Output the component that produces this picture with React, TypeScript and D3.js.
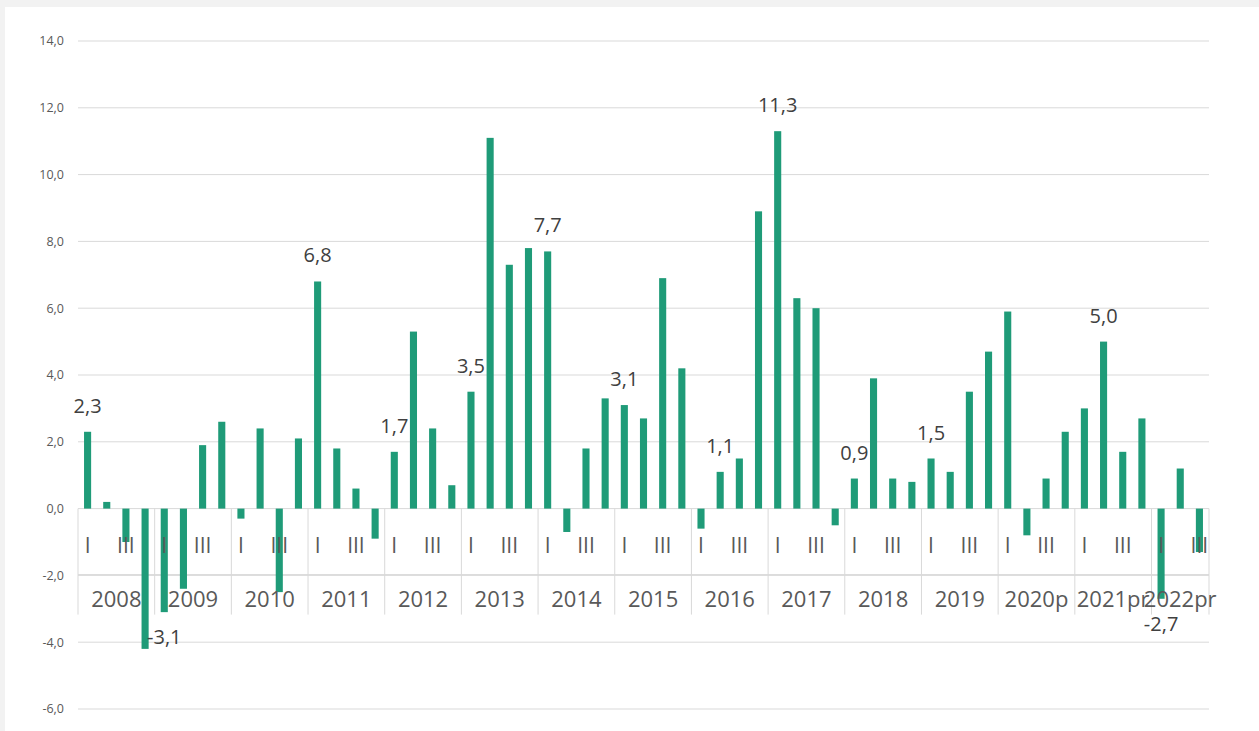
import React from "react";
import * as d3 from "d3";

const years = ["2008", "2009", "2010", "2011", "2012", "2013", "2014", "2015", "2016", "2017", "2018", "2019", "2020p", "2021pr", "2022pr"];
const quarterLabels = ["I", "II", "III", "IV"];

const v2008 = [2.3, 0.2, -1.0, -4.2];
const v2009 = [-3.1, -2.4, 1.9, 2.6];
const v2010 = [-0.3, 2.4, -2.5, 2.1];
const v2011 = [6.8, 1.8, 0.6, -0.9];
const v2012 = [1.7, 5.3, 2.4, 0.7];
const v2013 = [3.5, 11.1, 7.3, 7.8];
const v2014 = [7.7, -0.7, 1.8, 3.3];
const v2015 = [3.1, 2.7, 6.9, 4.2];
const v2016 = [-0.6, 1.1, 1.5, 8.9];
const v2017 = [11.3, 6.3, 6.0, -0.5];
const v2018 = [0.9, 3.9, 0.9, 0.8];
const v2019 = [1.5, 1.1, 3.5, 4.7];
const v2020 = [5.9, -0.8, 0.9, 2.3];
const v2021 = [3.0, 5.0, 1.7, 2.7];
const v2022 = [-2.7, 1.2, -1.3];

const seriesByYear = [v2008, v2009, v2010, v2011, v2012, v2013, v2014, v2015, v2016, v2017, v2018, v2019, v2020, v2021, v2022];

// data labels: [year, quarter index]
const labeledPoints: [string, number][] = [
  ["2008", 0], ["2009", 0], ["2011", 0], ["2012", 0], ["2013", 0], ["2014", 0],
  ["2015", 0], ["2016", 1], ["2017", 0], ["2018", 0], ["2019", 0], ["2021pr", 1], ["2022pr", 0],
];

const yTicks = [-6, -4, -2, 0, 2, 4, 6, 8, 10, 12, 14];

const W = 1259;
const H = 731;
const X0 = 78;
const X1 = 1209;
const FONT = "'Open Sans', 'DejaVu Sans', sans-serif";
const BAR = "#1f9b78";

type Pt = { id: string; year: string; q: number; value: number };

export default function App() {
  const points: Pt[] = [];
  years.forEach((y, yi) => {
    seriesByYear[yi].forEach((v, qi) => points.push({ id: `${y}-${qi}`, year: y, q: qi, value: v }));
  });

  const x = d3.scaleBand<string>().domain(points.map((p) => p.id)).range([X0, X1]).padding(0);
  const y = d3.scaleLinear().domain([-6, 14]).range([709, 41]);
  const bw = x.bandwidth() * 0.37;
  const fmt = (v: number) => d3.format(".1f")(v).replace(".", ",").replace("−", "-");

  const y0 = y(0);
  const rowSplit = y0 + 66;
  const axisBottom = y0 + 106;

  const groups = years.map((yr, yi) => {
    const pts = points.filter((p) => p.year === yr);
    const start = x(pts[0].id)!;
    const end = x(pts[pts.length - 1].id)! + x.bandwidth();
    return { yr, start, end };
  });

  return (
    <div style={{ position: "absolute", left: 0, top: 0 }}>
      <svg width={W} height={H} style={{ display: "block" }}>
        <rect x={0} y={0} width={W} height={H} fill="#f2f2f2" />
        <rect x={5} y={7} width={W - 5} height={H - 7} fill="#ffffff" />

        {/* gridlines */}
        {yTicks.map((t) => (
          <line key={t} x1={X0} x2={X1} y1={y(t)} y2={y(t)} stroke="#d9d9d9" strokeWidth={1} />
        ))}
        {/* y tick labels */}
        {yTicks.map((t) => (
          <text key={"l" + t} x={64} y={y(t)} dy="0.35em" textAnchor="end" fontFamily={FONT} fontSize={12.5} fill="#595959">
            {fmt(t)}
          </text>
        ))}

        {/* category axis structure */}
        <line x1={X0} x2={X1} y1={rowSplit} y2={rowSplit} stroke="#d9d9d9" />
        {groups.map((g, i) => (
          <line key={"d" + i} x1={g.start} x2={g.start} y1={y0} y2={axisBottom} stroke="#d9d9d9" />
        ))}
        <line x1={X1} x2={X1} y1={y0} y2={axisBottom} stroke="#d9d9d9" />

        {/* bars */}
        {points.map((p) => (
          <rect
            key={p.id}
            x={x(p.id)! + (x.bandwidth() - bw) / 2}
            width={bw}
            y={Math.min(y(p.value), y0)}
            height={Math.abs(y(p.value) - y0)}
            fill={BAR}
          />
        ))}

        {/* quarter labels */}
        {points
          .filter((p) => p.q % 2 === 0)
          .map((p) => (
            <text key={"q" + p.id} x={x(p.id)! + x.bandwidth() / 2} y={y0 + 37} dy="0.35em" textAnchor="middle" fontFamily={FONT} fontSize={21} fill="#595959">
              {quarterLabels[p.q]}
            </text>
          ))}

        {/* year labels */}
        {groups.map((g) => (
          <text key={"y" + g.yr} x={(g.start + g.end) / 2} y={rowSplit + 25} dy="0.35em" textAnchor="middle" fontFamily={FONT} fontSize={22} fill="#595959">
            {g.yr}
          </text>
        ))}

        {/* data labels */}
        {labeledPoints.map(([yr, q]) => {
          const p = points.find((pp) => pp.year === yr && pp.q === q)!;
          const cx = x(p.id)! + x.bandwidth() / 2;
          const cy = p.value >= 0 ? y(p.value) - 26 : y(p.value) + 25;
          return (
            <text key={"dl" + p.id} x={cx} y={cy} dy="0.35em" textAnchor="middle" fontFamily={FONT} fontSize={20} fill="#404040">
              {fmt(p.value)}
            </text>
          );
        })}
      </svg>
    </div>
  );
}
